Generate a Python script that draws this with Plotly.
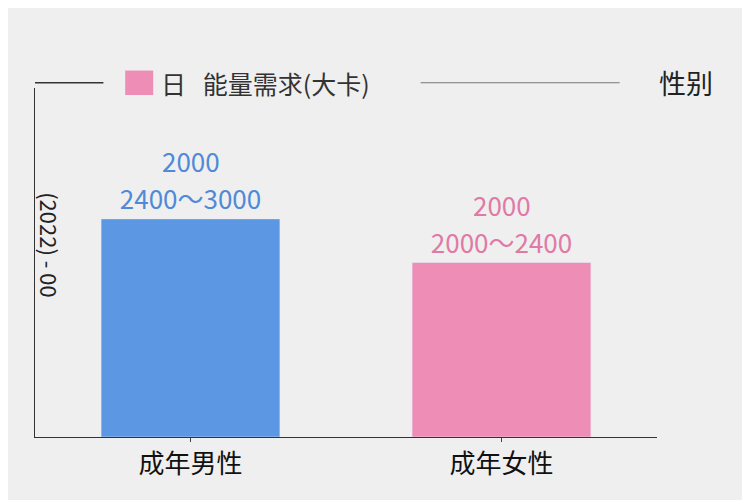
import plotly.graph_objects as go

categories = ["成年男性", "成年女性"]
values = [3000, 2400]
recommended = ["2000", "2000"]
ranges = ["2400～3000", "2000～2400"]
colors = ["#5b97e3", "#ee8db5"]
text_colors = ["#4f8ad8", "#e07aa5"]

fig = go.Figure(go.Bar(
    x=categories, y=values, marker_color=colors, width=0.575,
    text=ranges, textposition="outside", cliponaxis=False,
    textfont=dict(size=26, color=text_colors, family="Noto Sans CJK SC"),
    showlegend=False,
))

notes = [
    dict(text=r, x=c, y=v, yshift=38, showarrow=False, yanchor="bottom",
         font=dict(size=26, color=tc))
    for c, v, r, tc in zip(categories, values, recommended, text_colors)
]

fig.update_layout(
    width=742, height=492,
    margin=dict(l=27, r=93, t=80, b=63, autoexpand=False),
    paper_bgcolor="#efefef", plot_bgcolor="#efefef",
    font=dict(family="Noto Sans CJK SC", color="#222"),
    xaxis=dict(showline=True, linecolor="#333", tickfont=dict(size=26, color="#111"),
               ticks="outside", ticklen=4, automargin=False),
    yaxis=dict(range=[0, 4800], showgrid=False, showticklabels=False, showline=True,
               linecolor="#333", zeroline=False, automargin=False),
    shapes=[
        dict(type="rect", xref="paper", yref="paper", x0=0.145, x1=0.19, y0=0.98, y1=1.05,
             fillcolor="#ee8db5", line_width=0),
        dict(type="line", xref="paper", yref="paper", x0=0.62, x1=0.94, y0=1.015, y1=1.015,
             line=dict(color="#777", width=1)),
        dict(type="line", xref="paper", yref="paper", x0=0, x1=0.11, y0=1.015, y1=1.015,
             line=dict(color="#333", width=1.5)),
    ],
    annotations=notes + [
        dict(text="日   能量需求(大卡)", xref="paper", yref="paper", x=0.2, y=1.015,
             showarrow=False, xanchor="left", yanchor="middle", font=dict(size=25, color="#333")),
        dict(text="性别", xref="paper", yref="paper", x=1.0, y=1.015,
             showarrow=False, xanchor="left", yanchor="middle", font=dict(size=27, color="#222")),
        dict(text="(2022) - 00", xref="paper", yref="paper", x=-0.005, y=0.55,
             showarrow=False, textangle=90, xanchor="left", font=dict(size=22, color="#222")),
    ],
)

fig.write_html("out.html")
